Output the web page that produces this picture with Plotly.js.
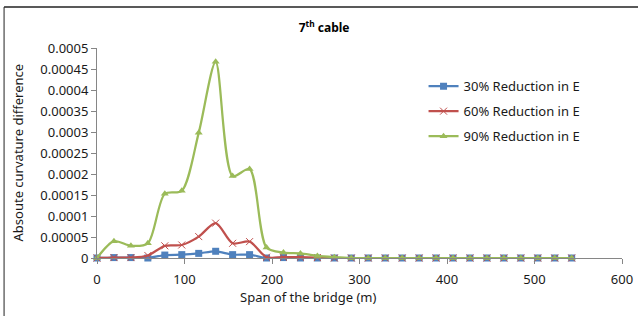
<!DOCTYPE html>
<html>
<head>
<meta charset="utf-8">
<script src="https://cdn.plot.ly/plotly-3.0.1.min.js"></script>
<style>html,body{margin:0;padding:0;background:#fff;}#chart{width:638px;height:316px;}</style>
</head>
<body>
<div id="chart"></div>
<script>
// Span positions (m)
const span = [0, 19.375, 38.75, 58.125, 77.5, 96.875, 116.25, 135.625, 155, 174.375, 193.75,
  213.125, 232.5, 251.875, 271.25, 290.625, 310, 329.375, 348.75, 368.125, 387.5, 406.875,
  426.25, 445.625, 465, 484.375, 503.75, 523.125, 542.5];
const red30 = [0, 0.000001, 0.000001, 0, 0.000007, 0.000008, 0.000011, 0.000016, 0.000008, 0.000008, 0,
  0.000001, 0, 0, 0, 0, 0, 0, 0, 0, 0, 0, 0, 0, 0, 0, 0, 0, 0];
const red60 = [0, 0.000001, 0.000001, 0.000006, 0.000029, 0.000031, 0.000051, 0.000083, 0.000035, 0.000039, 0.000002,
  0.000002, 0.000002, 0.000001, 0, 0, 0, 0, 0, 0, 0, 0, 0, 0, 0, 0, 0, 0, 0];
const red90 = [0, 0.000040, 0.000029, 0.000035, 0.000153, 0.000160, 0.000298, 0.000467, 0.000195, 0.000212, 0.000025,
  0.000013, 0.000011, 0.000005, 0.000002, 0, 0, 0, 0, 0, 0, 0, 0, 0, 0, 0, 0, 0, 0];
const seriesNames = ['30% Reduction in E', '60% Reduction in E', '90% Reduction in E'];
const yTickVals = [0, 0.00005, 0.0001, 0.00015, 0.0002, 0.00025, 0.0003, 0.00035, 0.0004, 0.00045, 0.0005];
const yTickText = ['0', '0.00005', '0.0001', '0.00015', '0.0002', '0.00025', '0.0003', '0.00035', '0.0004', '0.00045', '0.0005'];
const xTickVals = [0, 100, 200, 300, 400, 500, 600];
const chartTitle = '<b>7<sup>th</sup> cable</b>';
const xTitle = 'Span of the bridge (m)';
const yTitle = 'Absoute curvature difference';

const font = 'Noto Sans, Open Sans, sans-serif';
const txt = '#1a1a1a';
const colors = ['#4F81BD', '#C0504D', '#9BBB59'];
const symbols = ['square', 'x-thin', 'triangle-up'];
const vals = [red30, red60, red90];

const traces = vals.map((v, i) => ({
  x: span, y: v, name: seriesNames[i], type: 'scatter', mode: 'lines+markers',
  line: {color: colors[i], width: 2.25, shape: 'spline', smoothing: 0.8},
  marker: {symbol: symbols[i], size: 7, color: colors[i],
           line: {color: colors[i], width: i === 1 ? 1 : 0}},
  legend: i === 0 ? 'legend' : 'legend' + (i + 1),
  cliponaxis: false
}));

const legBase = {font: {family: font, size: 13, color: txt}, bgcolor: 'rgba(0,0,0,0)',
  xanchor: 'left', yanchor: 'middle', x: 0.622, itemwidth: 30};

const layout = {
  width: 638, height: 316,
  margin: {l: 97, r: 16, t: 48, b: 57.5},
  paper_bgcolor: '#fff', plot_bgcolor: '#fff',
  font: {family: font, size: 13, color: txt},
  title: {text: chartTitle, font: {family: font, size: 12, color: '#000'},
          x: 0.508, xanchor: 'center', y: 0.911, yanchor: 'middle'},
  xaxis: {range: [0, 600], tickvals: xTickVals, ticks: 'outside', ticklen: 5, tickcolor: '#868686',
          ticklabelstandoff: 4,
          showline: true, linecolor: '#868686', linewidth: 1, showgrid: false, zeroline: false,
          tickfont: {family: font, size: 13, color: txt}},
  yaxis: {range: [0, 0.0005], tickvals: yTickVals, ticktext: yTickText, ticks: 'outside', ticklen: 5,
          tickcolor: '#868686', showline: true, linecolor: '#868686', linewidth: 1, showgrid: false,
          zeroline: false, tickfont: {family: font, size: 13, color: txt}},
  showlegend: true,
  legend: Object.assign({}, legBase, {y: 0.818}),
  legend2: Object.assign({}, legBase, {y: 0.699}),
  legend3: Object.assign({}, legBase, {y: 0.580}),
  annotations: [
    {text: xTitle, xref: 'paper', yref: 'paper', x: 0.402, y: -0.185, xanchor: 'center', yanchor: 'middle',
     showarrow: false, font: {family: font, size: 13, color: txt}},
    {text: yTitle, xref: 'paper', yref: 'paper', x: -0.150, y: 0.5036, xanchor: 'center', yanchor: 'middle',
     textangle: -90, showarrow: false, font: {family: font, size: 13, color: txt}}
  ],
  shapes: [
    {type: 'line', xref: 'paper', yref: 'paper', x0: -0.177, x1: 1.05, y0: 1.1948, y1: 1.1948,
     line: {color: '#222', width: 1.5}},
    {type: 'line', xref: 'paper', yref: 'paper', x0: -0.177, x1: -0.177, y0: 1.1948, y1: -0.3,
     line: {color: '#222', width: 1}}
  ]
};

Plotly.newPlot('chart', traces, layout, {staticPlot: true, displayModeBar: false});
</script>
</body>
</html>
